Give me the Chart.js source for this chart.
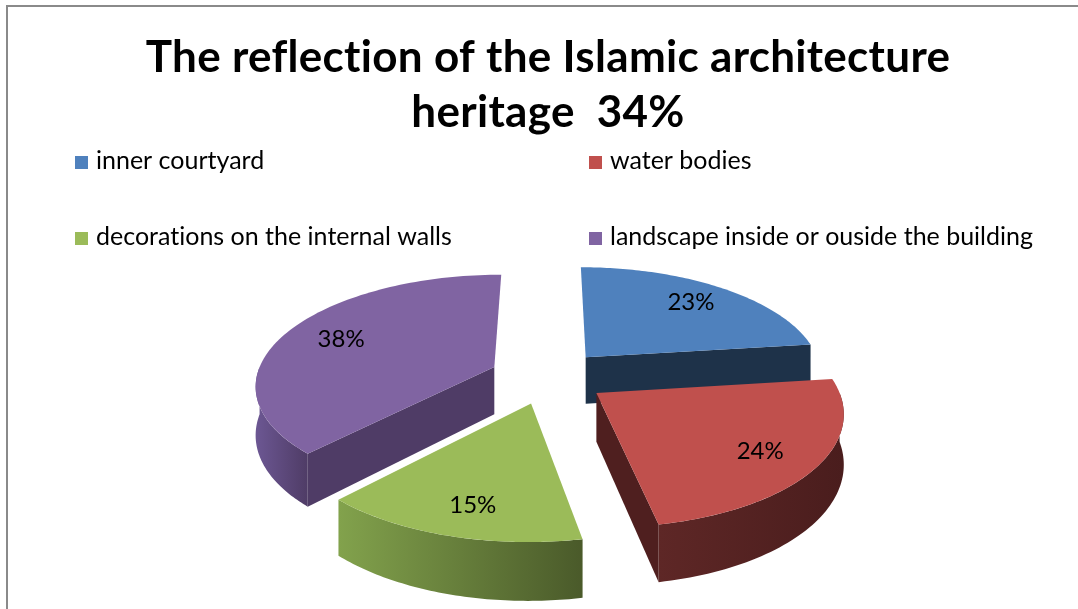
<!DOCTYPE html>
<html>
<head>
<meta charset="utf-8">
<script src="https://cdn.jsdelivr.net/npm/chart.js@4.4.1/dist/chart.umd.min.js"></script>
<style>
  html, body { margin: 0; padding: 0; background: #ffffff; }
  #wrap { width: 1078px; height: 609px; position: relative; }
</style>
</head>
<body>
<div id="wrap"><canvas id="chart" width="1078" height="609"></canvas></div>
<script>
// Survey shares (percent)
const TITLE_LINES = ['The reflection of the Islamic architecture', 'heritage  34%'];
const CATEGORIES = [
  'inner courtyard',
  'water bodies',
  'decorations on the internal walls',
  'landscape inside or ouside the building'
];
const SHARES = [23, 24, 15, 38];

// Office-style palette: top face, cut face, outer wall (light -> dark)
const TOP_COLORS  = ['#4f81bd', '#c0504d', '#9bbb59', '#8064a2'];
const CUT_COLORS  = ['#1e3249', '#4f1f1f', '#4d5c2b', '#4f3c66'];
const WALL_LIGHT  = ['#2a4566', '#5e2726', '#82a24c', '#6c5793'];
const WALL_DARK   = ['#1e3249', '#4a1d1d', '#4a5a2a', '#4f3c66'];

// 3D look, expressed relative to the pie radius computed by Chart.js
const TILT = {
  rx: 1.54,      // horizontal half-axis
  ry: 0.705,     // vertical half-axis
  depth: 0.31,   // thickness of the pie
  lift: 0.38,    // top face raised above the chart-area centre
  persp: 0.15    // near side drawn larger than far side
};

// plain glyphs, no ligatures
function plainText(ctx) {
  if ('textRendering' in ctx) ctx.textRendering = 'optimizeSpeed';
}

const pie3d = {
  id: 'pie3d',
  beforeDraw(chart) {
    const ctx = chart.ctx;
    ctx.save();
    ctx.fillStyle = '#8a8a8a';
    ctx.fillRect(6, 5, chart.width - 6, 2);
    ctx.fillRect(6, 5, 2, chart.height - 5);

    // title
    plainText(ctx);
    ctx.fillStyle = '#000';
    ctx.textAlign = 'center';
    ctx.textBaseline = 'alphabetic';
    ctx.font = 'bold 44px Lato';
    ctx.letterSpacing = '0.3px';
    const cx = (chart.chartArea.left + chart.chartArea.right) / 2;
    TITLE_LINES.forEach((line, i) => ctx.fillText(line, cx, 72 + i * 55));

    // legend, two columns
    ctx.font = '25px Lato';
    ctx.letterSpacing = '0px';
    ctx.textAlign = 'left';
    const colX = [75, 589];
    const rowY = [169, 245];
    chart.data.labels.forEach((lab, i) => {
      const x = colX[i % 2], y = rowY[Math.floor(i / 2)];
      ctx.fillStyle = chart.data.datasets[0].backgroundColor[i];
      ctx.fillRect(x, y - 13, 13, 13);
      ctx.fillStyle = '#000';
      ctx.fillText(lab, x + 21, y);
    });
    ctx.restore();
  },
  beforeDatasetsDraw(chart) {
    const ctx = chart.ctx;
    const meta = chart.getDatasetMeta(0);
    const arcs = meta.data;
    if (!arcs.length) return false;
    const R = arcs[0].outerRadius;
    const Xc = arcs[0].x;
    const Yc = arcs[0].y - TILT.lift * R;
    const A = TILT.rx * R, B = TILT.ry * R, D = TILT.depth * R;

    const proj = (u, v, down) => {
      const p = 1 / (1 - TILT.persp * v);
      return [Xc + A * u * p, Yc + B * v * p + (down ? D * p : 0)];
    };

    const slices = arcs.map((arc, i) => {
      const a0 = arc.startAngle, a1 = arc.endAngle;
      const mid = (a0 + a1) / 2;
      const d = (arc.options.offset || 0) / R;
      return { i, a0, a1, mid, ox: d * Math.cos(mid), oy: d * Math.sin(mid) };
    });

    const pt = (s, r, th, down) => proj(s.ox + r * Math.cos(th), s.oy + r * Math.sin(th), down);

    // back slices first
    const order = slices.slice().sort((p, q) => proj(p.ox, p.oy)[1] - proj(q.ox, q.oy)[1]);

    ctx.save();
    order.forEach(s => {
      // cut faces
      const cut = (th) => {
        const c0 = pt(s, 0, 0, false), c1 = pt(s, 1, th, false);
        const c2 = pt(s, 1, th, true), c3 = pt(s, 0, 0, true);
        ctx.beginPath();
        ctx.moveTo(c0[0], c0[1]); ctx.lineTo(c1[0], c1[1]);
        ctx.lineTo(c2[0], c2[1]); ctx.lineTo(c3[0], c3[1]);
        ctx.closePath();
        ctx.fillStyle = CUT_COLORS[s.i];
        ctx.fill();
      };
      if (Math.cos(s.a0) < -1e-6) cut(s.a0);
      if (Math.cos(s.a1) > 1e-6) cut(s.a1);

      // outer wall on the near half
      for (let k = -1; k <= 1; k++) {
        const lo = Math.max(s.a0, 2 * Math.PI * k);
        const hi = Math.min(s.a1, Math.PI + 2 * Math.PI * k);
        if (hi <= lo) continue;
        const n = 60;
        const top = [], bot = [];
        for (let j = 0; j <= n; j++) {
          const th = lo + (hi - lo) * j / n;
          top.push(pt(s, 1, th, false));
          bot.push(pt(s, 1, th, true));
        }
        const xs = top.map(q => q[0]);
        const xmin = Math.min(...xs), xmax = Math.max(...xs);
        const g = ctx.createLinearGradient(xmin, 0, xmax, 0);
        g.addColorStop(0, WALL_LIGHT[s.i]);
        g.addColorStop(1, WALL_DARK[s.i]);
        ctx.beginPath();
        top.forEach((q, j) => j ? ctx.lineTo(q[0], q[1]) : ctx.moveTo(q[0], q[1]));
        for (let j = bot.length - 1; j >= 0; j--) ctx.lineTo(bot[j][0], bot[j][1]);
        ctx.closePath();
        ctx.fillStyle = g;
        ctx.fill();
      }

      // top face
      ctx.beginPath();
      const c = pt(s, 0, 0, false);
      ctx.moveTo(c[0], c[1]);
      const n = 90;
      for (let j = 0; j <= n; j++) {
        const q = pt(s, 1, s.a0 + (s.a1 - s.a0) * j / n, false);
        ctx.lineTo(q[0], q[1]);
      }
      ctx.closePath();
      ctx.fillStyle = TOP_COLORS[s.i];
      ctx.fill();
    });

    // value labels on the top faces
    ctx.fillStyle = '#000';
    ctx.font = '24px Lato';
    ctx.textAlign = 'center';
    ctx.textBaseline = 'middle';
    slices.forEach(s => {
      const q = pt(s, 0.75, s.mid, false);
      ctx.fillText(chart.data.datasets[0].data[s.i] + '%', q[0] + 2, q[1] + 5 * Math.sin(s.mid) + 2);
    });
    ctx.restore();
    return false;
  }
};

new Chart(document.getElementById('chart'), {
  type: 'pie',
  data: {
    labels: CATEGORIES,
    datasets: [{
      data: SHARES,
      backgroundColor: TOP_COLORS,
      borderWidth: 0,
      offset: 38
    }]
  },
  options: {
    responsive: false,
    animation: false,
    events: [],
    layout: { padding: { top: 262, left: 18, right: 0, bottom: 0 } },
    plugins: {
      legend: { display: false },
      title: { display: false },
      tooltip: { enabled: false }
    }
  },
  plugins: [pie3d]
});
</script>
</body>
</html>
